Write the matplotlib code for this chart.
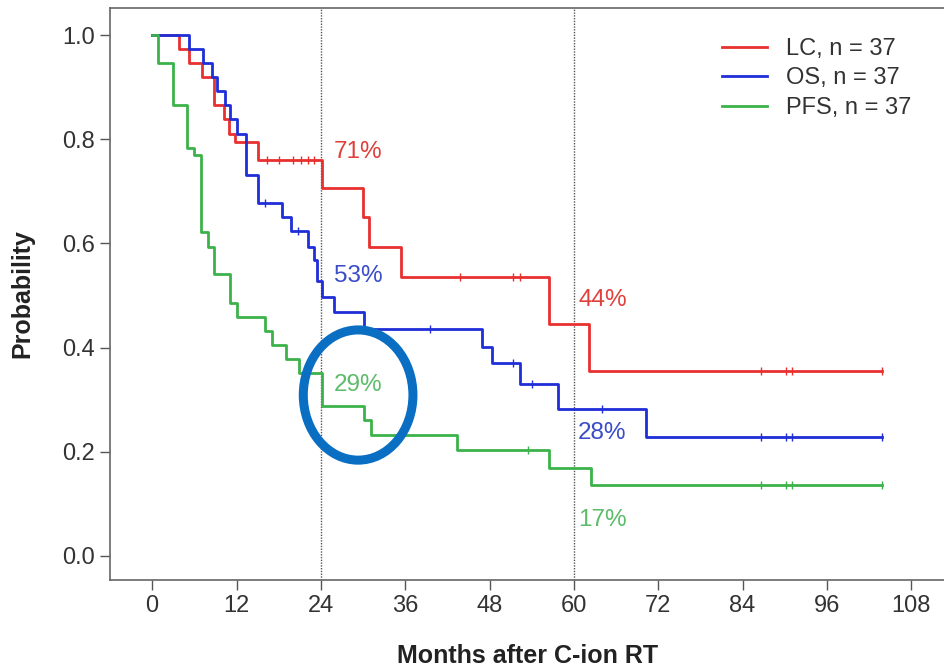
import matplotlib
matplotlib.use("Agg")
import matplotlib.pyplot as plt
from matplotlib.patches import Ellipse

plt.rcParams['font.family'] = ['Liberation Sans', 'DejaVu Sans']

# ---- data ----
lc_t = [0, 3.8, 5.3, 7.1, 8.8, 10.2, 11.0, 11.8, 15.0, 24.2, 30.0, 30.8, 35.4, 56.4, 62.1, 103.8]
lc_s = [1.0, 0.973, 0.946, 0.919, 0.865, 0.838, 0.811, 0.795, 0.760, 0.706, 0.650, 0.594, 0.535, 0.445, 0.356, 0.356]
lc_cens_t = [16.4, 18.0, 20.0, 21.2, 22.2, 23.0, 43.8, 51.4, 52.3, 86.6, 90.2, 91.1, 103.8]

os_t = [0, 5.2, 7.3, 8.5, 9.2, 10.3, 11.1, 12.0, 13.3, 15.0, 18.5, 19.7, 22.1, 23.0, 23.5, 24.2, 25.9,
        30.2, 46.9, 48.3, 52.3, 57.8, 70.2, 103.8]
os_s = [1.0, 0.973, 0.946, 0.919, 0.892, 0.865, 0.838, 0.811, 0.731, 0.677, 0.650, 0.623, 0.594, 0.568,
        0.527, 0.498, 0.469, 0.435, 0.402, 0.370, 0.331, 0.283, 0.228, 0.228]
os_cens_t = [16.1, 20.7, 39.5, 51.4, 54.0, 64.0, 86.6, 90.2, 91.1, 103.8]

pfs_t = [0, 0.9, 3.0, 4.9, 5.9, 6.9, 8.0, 8.8, 11.1, 12.1, 16.1, 17.1, 19.0, 20.9, 24.2, 30.2, 31.1,
         43.3, 56.4, 62.5, 103.8]
pfs_s = [1.0, 0.946, 0.865, 0.784, 0.770, 0.622, 0.594, 0.541, 0.486, 0.459, 0.432, 0.405, 0.378,
         0.351, 0.288, 0.261, 0.232, 0.203, 0.168, 0.136, 0.136]
pfs_cens_t = [53.5, 86.6, 90.2, 91.1, 103.8]

labels = ["LC, n = 37", "OS, n = 37", "PFS, n = 37"]
colors = ["#e8302f", "#1f2ed8", "#3cb24a"]
text_colors = ["#e0403c", "#3a4cc8", "#5cbc6a"]

milestones = [24, 60]
pct_24 = ["71%", "53%", "29%"]
pct_24_y = [0.775, 0.537, 0.328]
pct_60 = ["44%", "28%", "17%"]
pct_60_y = [0.491, 0.236, 0.069]

xticks = [0, 12, 24, 36, 48, 60, 72, 84, 96, 108]
yticks = [0.0, 0.2, 0.4, 0.6, 0.8, 1.0]


def step_val(t_list, s_list, t):
    v = s_list[0]
    for tt, ss in zip(t_list, s_list):
        if tt <= t:
            v = ss
    return v


fig = plt.figure(figsize=(9.45, 6.67), dpi=100)
ax = fig.add_axes([0.1164, 0.1305, 0.8836, 0.8575])

series = [(lc_t, lc_s, lc_cens_t), (os_t, os_s, os_cens_t), (pfs_t, pfs_s, pfs_cens_t)]
for (t, s, ct), col, lab in zip(series, colors, labels):
    ax.step(t, s, where='post', color=col, lw=2.0, label=lab, zorder=3)
    cy = [step_val(t, s, c) for c in ct]
    ax.plot(ct, cy, linestyle='none', marker='|', markersize=6, mew=1.0, color=col, zorder=3)

for m in milestones:
    ax.axvline(m, color='#555555', lw=1.0, ls=(0, (1, 1)), zorder=1)

for txt, y, c in zip(pct_24, pct_24_y, text_colors):
    ax.text(25.9, y, txt, color=c, fontsize=17.5, va='center', ha='left')
for txt, y, c in zip(pct_60, pct_60_y, text_colors):
    ax.text(60.6, y, txt, color=c, fontsize=17.5, va='center', ha='left')

ell = Ellipse((29.3, 0.309), 15.6, 0.25, fill=False, edgecolor='#0a6fc2', lw=6.5, zorder=5)
ax.add_patch(ell)

ax.set_xlim(-6.0, 112.8)
ax.set_ylim(-0.046, 1.052)
ax.set_xticks(xticks)
ax.set_xticklabels([str(v) for v in xticks])
ax.set_yticks(yticks)
ax.set_yticklabels([f"{v:.1f}" for v in yticks])
ax.tick_params(axis='both', labelsize=17, length=7, width=1.0, color='#555555', labelcolor='#333333', pad=4)
ax.spines['right'].set_visible(False)
for sp in ['top', 'bottom', 'left']:
    ax.spines[sp].set_color('#666666')
    ax.spines[sp].set_linewidth(1.2)

ax.set_xlabel("Months after C-ion RT", fontsize=18, fontweight='bold', color='#222222', labelpad=19)
ax.set_ylabel("Probability", fontsize=18, fontweight='bold', color='#222222', labelpad=20)

leg = ax.legend(loc='upper right', bbox_to_anchor=(0.985, 0.985), frameon=False, fontsize=17,
                handlelength=1.9, labelspacing=0.32, handletextpad=0.8)
for tx in leg.get_texts():
    tx.set_color('#333333')

fig.savefig("out.png", dpi=100)
